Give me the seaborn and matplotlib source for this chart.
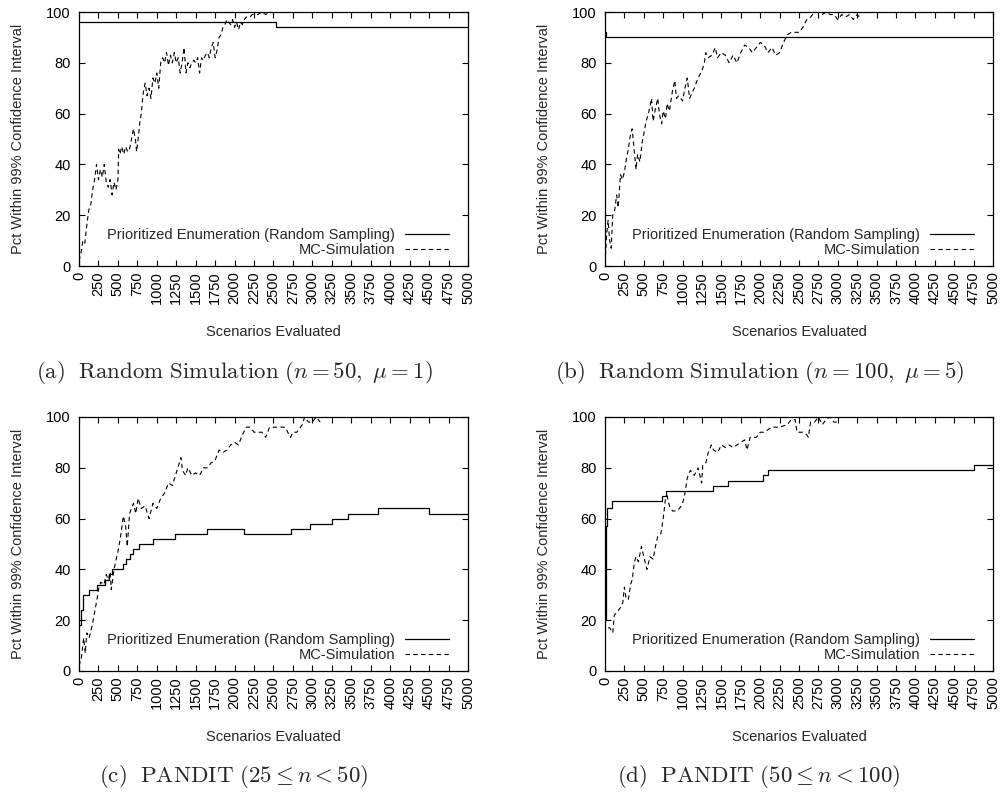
import matplotlib
matplotlib.use("Agg")
import matplotlib.pyplot as plt
import seaborn as sns

# ---------------- data ----------------
x_ticks = list(range(0, 5001, 250))
y_ticks = [0, 20, 40, 60, 80, 100]
label_pe = "Prioritized Enumeration (Random Sampling)"
label_mc = "MC-Simulation"
x_label = "Scenarios Evaluated"
y_label = "Pct Within 99% Confidence Interval"

captions = [
    r"$\mathrm{(a)\ \ Random\ Simulation\ (}n=50,\ \mu=1\mathrm{)}$",
    r"$\mathrm{(b)\ \ Random\ Simulation\ (}n=100,\ \mu=5\mathrm{)}$",
    r"$\mathrm{(c)\ \ PANDIT\ (}25\leq n<50\mathrm{)}$",
    r"$\mathrm{(d)\ \ PANDIT\ (}50\leq n<100\mathrm{)}$",
]

# Panel (a)
pe_a_x = [0, 2530, 5000]
pe_a_y = [96, 94, 94]
mc_a_x = [0, 25, 50, 75, 100, 125, 150, 175, 200, 225, 250, 275, 300, 325, 350,
          375, 400, 425, 450, 475, 500, 510, 525, 550, 575, 600, 625, 650, 675, 700,
          725, 740, 760, 780, 800, 825, 850, 875, 900, 925, 950, 975, 1000, 1025, 1050,
          1075, 1100, 1125, 1150, 1175, 1200, 1225, 1250, 1275, 1300, 1325, 1350, 1375,
          1400, 1425, 1450, 1475, 1500, 1525, 1550, 1575, 1600, 1625, 1650, 1675, 1700,
          1725, 1750, 1775, 1800, 1825, 1850, 1875, 1900, 1925, 1950, 1975, 2000, 2025,
          2050, 2075, 2100, 2125, 2150, 2175, 2200, 2225, 2250, 2300, 2350, 2400, 2450,
          2500, 2550, 2600]
mc_a_y = [2, 5, 10, 9, 16, 22, 24, 30, 34, 40, 34, 38, 35, 40, 33,
          31, 34, 28, 33, 30, 34, 46, 44, 47, 44, 47, 45, 46, 50, 54,
          50, 45, 50, 56, 60, 68, 72, 67, 70, 66, 74, 72, 76, 70, 80,
          82, 80, 84, 79, 83, 80, 84, 80, 82, 76, 80, 86, 76,
          80, 78, 80, 81, 80, 82, 76, 82, 81, 83, 84, 82, 86,
          88, 82, 85, 90, 91, 94, 95, 97, 96, 95, 97, 94, 96,
          93, 96, 95, 97, 98, 98, 98, 99, 99, 99, 100, 99, 100,
          100, 100, 100]

# Panel (b)
pe_b_x = [0, 15, 5000]
pe_b_y = [92, 90, 90]
mc_b_x = [0, 10, 20, 40, 60, 80, 100, 125, 150, 170, 200, 225, 250, 275, 300,
          330, 350, 375, 400, 420, 450, 480, 500, 530, 560, 600, 620, 650, 680, 700,
          730, 750, 780, 800, 830, 870, 900, 920, 950, 1000, 1030, 1060, 1090, 1120, 1150,
          1200, 1250, 1280, 1300, 1330, 1380, 1420, 1450, 1500, 1550, 1600, 1650, 1700,
          1750, 1800, 1850, 1900, 1950, 2000, 2050, 2100, 2150, 2200, 2250, 2300, 2350,
          2400, 2450, 2500, 2550, 2600, 2650, 2700, 2750, 2800, 2850, 2900, 2950, 3000,
          3050, 3100, 3150, 3200, 3250, 3280]
mc_b_y = [1, 6, 12, 18, 10, 7, 20, 22, 28, 23, 36, 34, 37, 42, 46,
          52, 54, 46, 38, 44, 41, 49, 52, 57, 60, 66, 57, 62, 66, 60,
          56, 61, 58, 64, 61, 69, 73, 66, 67, 65, 70, 74, 66, 68, 70,
          74, 77, 80, 84, 82, 83, 86, 82, 84, 83, 80, 83, 80,
          84, 87, 86, 84, 86, 88, 87, 84, 86, 83, 84, 88, 91,
          92, 92, 92, 94, 97, 98, 100, 100, 99, 100, 99, 99, 97,
          99, 98, 99, 97, 99, 98]

# Panel (c)
pe_c_x = [0, 20, 50, 130, 230, 330, 380, 430, 560, 600, 650, 700, 770, 950, 1230,
          1640, 2120, 2720, 2970, 3250, 3460, 3840, 4500, 5000]
pe_c_y = [18, 24, 30, 32, 34, 36, 38, 40, 42, 44, 46, 48, 50, 52, 54,
          56, 54, 56, 58, 60, 62, 64, 62, 62]
mc_c_x = [0, 30, 60, 80, 100, 130, 170, 200, 230, 250, 280, 320, 350, 380, 400,
          415, 450, 500, 530, 570, 600, 620, 650, 700, 730, 760, 800, 850, 900, 950,
          1000, 1050, 1100, 1150, 1200, 1250, 1280, 1310, 1330, 1370, 1400, 1450, 1500,
          1550, 1600, 1650, 1700, 1750, 1800, 1850, 1900, 1950, 2000, 2050, 2100, 2150,
          2200, 2250, 2300, 2350, 2400, 2450, 2500, 2550, 2600, 2650, 2700, 2720, 2750,
          2800, 2870, 2900, 2950, 3000, 3050, 3100]
mc_c_y = [2, 5, 13, 7, 15, 13, 18, 23, 28, 32, 35, 34, 38, 36, 39,
          32, 40, 47, 52, 61, 57, 49, 62, 66, 62, 68, 64, 65, 60, 66,
          64, 68, 70, 74, 73, 78, 81, 84, 79, 77, 80, 77, 78,
          77, 80, 80, 82, 83, 87, 86, 87, 89, 90, 89, 93, 96,
          96, 94, 94, 94, 92, 96, 96, 96, 96, 96, 93, 92, 94,
          94, 97, 100, 98, 98, 100, 98]

# Panel (d)
pe_d_x = [0, 10, 30, 90, 740, 790, 1390, 1590, 2030, 2100, 4750, 5000]
pe_d_y = [20, 57, 64, 67, 69, 71, 73, 75, 77, 79, 81, 81]
mc_d_x = [40, 60, 100, 120, 150, 200, 230, 250, 270, 300, 330, 350, 380, 400, 430,
          470, 500, 540, 580, 620, 650, 680, 720, 750, 780, 800, 830, 870, 920, 960,
          1000, 1030, 1060, 1100, 1150, 1200, 1245, 1260, 1300, 1330, 1370, 1400, 1450,
          1500, 1550, 1600, 1650, 1700, 1750, 1800, 1830, 1870, 1900, 1950, 2000, 2050,
          2100, 2150, 2250, 2350, 2400, 2450, 2475, 2550, 2600, 2620, 2650, 2700, 2750,
          2800, 2850, 2900, 2950, 3000]
mc_d_y = [17, 17, 15, 22, 23, 25, 27, 33, 29, 28, 34, 36, 43, 45, 43,
          49, 45, 40, 45, 44, 49, 53, 54, 60, 68, 69, 65, 63, 63, 64,
          66, 70, 76, 79, 77, 80, 74, 81, 82, 86, 89, 87, 86,
          89, 88, 89, 88, 89, 90, 91, 87, 92, 92, 92, 94, 94,
          95, 96, 96, 97, 99, 99, 94, 94, 93, 92, 98, 98, 100,
          97, 99, 100, 98, 98]

# ---------------- style ----------------
sns.set_style("ticks")
plt.rcParams['font.family'] = ['Liberation Sans', 'DejaVu Sans']
plt.rcParams['mathtext.fontset'] = 'cm'
FS = 10.5

fig = plt.figure(figsize=(10.03, 7.94), dpi=100)
W, H = 1003.0, 794.0

# axes boxes in pixels: (left, top, right, bottom)
boxes = [(79, 12, 468, 266), (605, 12, 993, 266),
         (79, 417, 468, 671), (605, 417, 993, 671)]
cap_pos = [(234, 372), (760, 372), (234, 777), (759, 777)]
series = [(pe_a_x, pe_a_y, mc_a_x, mc_a_y),
          (pe_b_x, pe_b_y, mc_b_x, mc_b_y),
          (pe_c_x, pe_c_y, mc_c_x, mc_c_y),
          (pe_d_x, pe_d_y, mc_d_x, mc_d_y)]

for (l, t, r, b), (px, py, mx, my), cap, (cx, cy) in zip(boxes, series, captions, cap_pos):
    ax = fig.add_axes([l / W, 1 - b / H, (r - l) / W, (b - t) / H])
    sns.lineplot(x=px, y=py, ax=ax, color='black', linewidth=0.9,
                 drawstyle='steps-post', estimator=None, sort=False,
                 label=label_pe, legend=False)
    sns.lineplot(x=mx, y=my, ax=ax, color='black', linewidth=0.8,
                 linestyle=(0, (4, 3)), estimator=None, sort=False,
                 label=label_mc, legend=False)
    ax.set_xlim(0, 5000)
    ax.set_ylim(0, 100)
    ax.set_xticks(x_ticks)
    ax.set_yticks(y_ticks)
    ax.tick_params(direction='in', top=True, right=True, length=4, width=0.8,
                   labelsize=FS, colors='black')
    ax.tick_params(axis='x', labelrotation=90, pad=4)
    ax.tick_params(axis='y', pad=6)
    for sp in ax.spines.values():
        sp.set_visible(True)
        sp.set_linewidth(0.9)
        sp.set_color('black')
    ax.set_xlabel(x_label, fontsize=FS)
    ax.set_ylabel(y_label, fontsize=FS)
    ax.xaxis.set_label_coords(0.5, -0.232)
    ax.yaxis.set_label_coords(-0.139, 0.5)
    handles, labels = ax.get_legend_handles_labels()
    ax.legend(handles, labels, loc='lower right', bbox_to_anchor=(0.951, 0.035),
              frameon=False, markerfirst=False, handlelength=3.0,
              handletextpad=0.7, labelspacing=0.1, borderpad=0,
              borderaxespad=0, fontsize=FS)
    fig.text(cx / W, 1 - cy / H, cap, ha='center', va='center', fontsize=16.5)

fig.savefig("out.png", dpi=100)
